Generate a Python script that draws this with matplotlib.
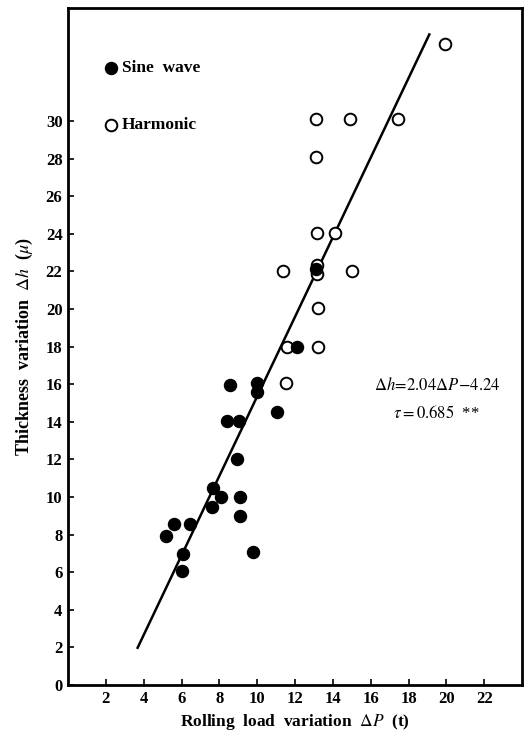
import matplotlib
matplotlib.use("Agg")
import matplotlib.pyplot as plt

plt.rcParams['font.family'] = ['Liberation Serif', 'DejaVu Serif']
plt.rcParams['mathtext.fontset'] = 'stix'

# Sine wave (filled circles): rolling load variation dP (t), thickness variation dh (micron)
sine_x = [8.43, 9.04, 11.03, 8.95, 7.67, 8.07, 7.63, 9.08, 9.08, 5.61, 6.44, 5.17,
          6.09, 6.0, 9.78, 8.57, 10.0, 10.0, 12.12, 13.1]
sine_y = [14.04, 14.04, 14.5, 12.04, 10.5, 10.0, 9.47, 10.0, 8.97, 8.55, 8.55, 7.93,
          6.99, 6.05, 7.05, 15.98, 16.05, 15.58, 18.0, 22.1]

# Harmonic (open circles)
harm_x = [19.91, 13.12, 14.93, 17.43, 13.12, 13.18, 14.14, 11.36, 13.15, 13.15,
          15.02, 13.23, 11.56, 13.23, 11.5]
harm_y = [34.07, 30.09, 30.09, 30.09, 28.06, 24.04, 24.04, 22.0, 22.35, 21.85,
          22.0, 20.06, 17.97, 18.0, 16.05]

# regression line as drawn
line_x = [3.68, 19.1]
line_y = [1.98, 34.6]

xticks = list(range(2, 23, 2))
yticks = list(range(0, 31, 2))

fig = plt.figure(figsize=(5.26, 7.39), dpi=100)
ax = fig.add_axes([0.1293, 0.0731, 0.8631, 0.9159])

ax.plot(line_x, line_y, color='black', lw=1.8, zorder=2)
ax.scatter(harm_x, harm_y, s=70, facecolors='white', edgecolors='black',
           linewidths=1.4, zorder=3)
ax.scatter(sine_x, sine_y, s=75, color='black', zorder=4)

ax.set_xlim(0, 24)
ax.set_ylim(0, 36)
ax.set_xticks(xticks)
ax.set_yticks(yticks)
ax.tick_params(direction='in', length=4, width=1.2, labelsize=12, pad=4)
for lab in ax.get_xticklabels() + ax.get_yticklabels():
    lab.set_fontweight('bold')
for sp in ax.spines.values():
    sp.set_linewidth(2)

# legend drawn as text + markers
ax.scatter([2.25], [32.8], s=75, color='black')
ax.text(2.85, 32.8, 'Sine  wave', fontsize=12.5, fontweight='bold', va='center')
ax.scatter([2.25], [29.8], s=70, facecolors='white', edgecolors='black', linewidths=1.4)
ax.text(2.85, 29.8, 'Harmonic', fontsize=12.5, fontweight='bold', va='center')

ax.text(16.2, 15.95, r'$\mathit{\Delta h}\!=\!2.04\mathit{\Delta P}\!-\!4.24$',
        fontsize=12, va='center')
ax.text(17.2, 14.45, r'$\tau=0.685$' + '  **', fontsize=12, va='center')

ax.set_xlabel(r'Rolling  load  variation  $\mathit{\Delta P}$  (t)', fontsize=12.5,
              fontweight='bold', labelpad=4)
ax.set_ylabel(r'Thickness  variation  $\mathit{\Delta h}$  ($\mu$)', fontsize=13,
              fontweight='bold', labelpad=8)

fig.savefig('out.png', dpi=100)
